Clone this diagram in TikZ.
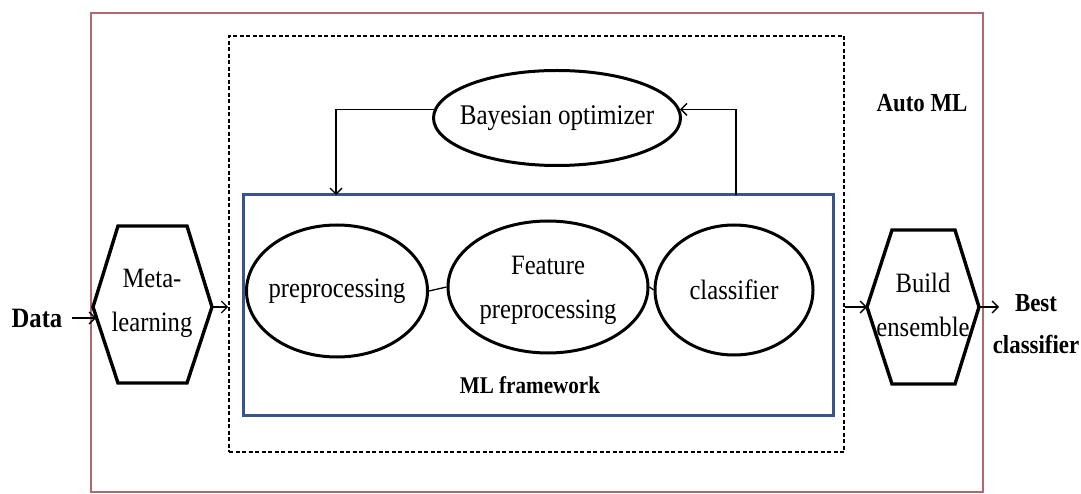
\documentclass[tikz,border=0pt]{standalone}
\usepackage{fontspec}
\setmainfont{Liberation Serif}[FakeStretch=0.88]
\usetikzlibrary{arrows.meta,shapes.geometric}
\definecolor{outerc}{RGB}{175,105,115}
\definecolor{bluec}{RGB}{55,85,140}
\tikzset{
  oval/.style={draw, ellipse, line width=3pt, inner sep=0pt},
  hexline/.style={draw, line width=3.4pt, line join=miter},
  conn/.style={line width=1.3pt},
  arr/.style={conn, -{Straight Barb[length=6pt,width=12pt]}},
  txt/.style={font=\fontsize{28}{44}\selectfont, align=center, inner sep=0pt},
  btxt/.style={font=\bfseries\fontsize{26}{42}\selectfont, align=center, inner sep=0pt},
}
\begin{document}
\begin{tikzpicture}[x=1pt,y=-1pt]
\useasboundingbox (0,0) rectangle (1081,494);
% frames
\node[draw=outerc, line width=1.5pt, minimum width=892pt, minimum height=479pt, inner sep=0pt] (automl) at (537,252.5) {};
\node[draw, dash pattern=on 4pt off 2.5pt, line width=1.6pt, minimum width=615pt, minimum height=416pt, inner sep=0pt] (auto) at (536.5,244) {};
\node[draw=bluec, line width=3pt, minimum width=590pt, minimum height=220pt, inner sep=0pt] (ml) at (538,305) {};
% labels
\node[btxt] (automllabel) at (922,103) {Auto ML};
\node[btxt, font=\bfseries\fontsize{24}{28}\selectfont] (mllabel) at (530,385) {ML framework};
\node[btxt, font=\bfseries\fontsize{28}{30}\selectfont] (data) at (37,318) {Data};
\node[btxt] (best) at (1036,324) {Best\\classifier};
% ellipses
\node[oval, minimum width=247pt, minimum height=95pt] (bayes) at (557,118) {\makebox[0pt]{\raisebox{4pt}{\fontsize{28.5}{30}\selectfont Bayesian optimizer}}};
\node[oval, minimum width=181pt, minimum height=132pt] (pre) at (337,291) {\makebox[0pt]{\fontsize{28}{30}\selectfont preprocessing}};
\node[oval, minimum width=200pt, minimum height=132pt] (feat) at (548,287) {\makebox[0pt]{\fontsize{28}{48}\selectfont\begin{tabular}{@{}c@{}}Feature\\[-4pt]preprocessing\end{tabular}}};
\node[oval, minimum width=158pt, minimum height=130pt] (cls) at (734,290) {\makebox[0pt]{\fontsize{28}{30}\selectfont classifier}};
% hexagons
\coordinate (meta-l) at (93,307);
\coordinate (meta-r) at (212,307);
\coordinate (metain) at (96,318);
\draw[hexline] (118,226) -- (187,226) -- (meta-r) -- (187,383) -- (118,383) -- (meta-l) -- cycle;
\node[txt] (meta) at (152,303) {Meta-\\learning};
\coordinate (build-l) at (867,307);
\coordinate (build-r) at (979,307);
\draw[hexline] (892,230) -- (955,230) -- (build-r) -- (955,384) -- (892,384) -- (build-l) -- cycle;
\node[txt] (build) at (923,305) {Build\\ensemble};
% connectors
\draw[conn] (pre.east) -- (feat.west);
\draw[conn] (feat.east) -- (cls.west);
\coordinate (fbk) at (336,195);
\coordinate (clsout) at (736,195);
\draw[arr] (bayes.176) -| (fbk);
\draw[arr] (clsout) |- (bayes.4);
\path (data.east) ++(9,0) coordinate (dataout);
\draw[arr] (dataout) -- (metain);
\draw[arr] (meta-r) -- (auto.west |- meta-r);
\draw[arr] (auto.east |- build-l) -- (build-l);
\coordinate (bestin) at (999,307);
\draw[arr] (build-r) -- (bestin);
\end{tikzpicture}
\end{document}
